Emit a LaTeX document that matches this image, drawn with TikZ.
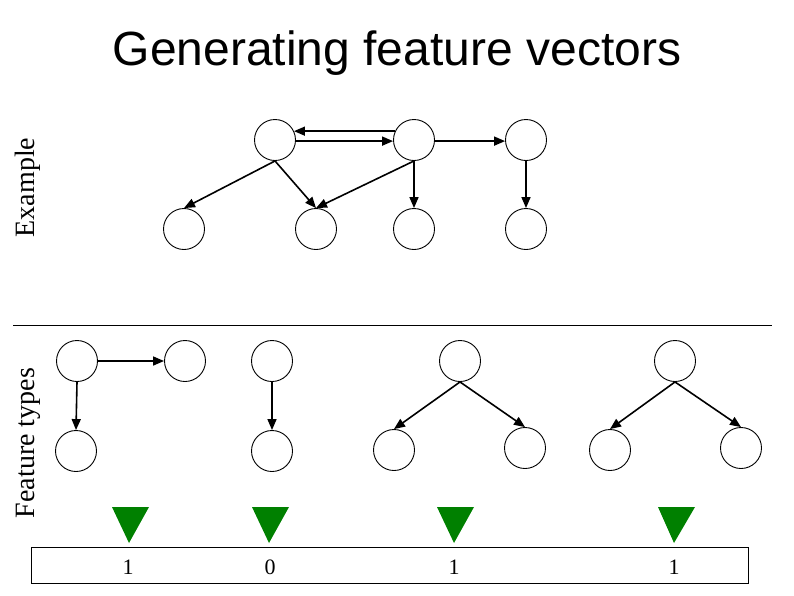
\documentclass[tikz,border=0pt]{standalone}
\usepackage{fontspec}
\setmainfont{Liberation Serif}
\newfontfamily\titlefont{Liberation Sans}
\usetikzlibrary{arrows.meta}
\definecolor{markgreen}{RGB}{0,128,0}
\tikzset{
  vtx/.style={circle, draw, line width=0.9pt, minimum size=41pt, inner sep=0pt},
  edge/.style={line width=1.6pt, -{Triangle[length=11pt,width=9pt]}},
  marker/.style={fill=markgreen},
  sidelabel/.style={rotate=90, anchor=base, font=\fontsize{28}{28}\selectfont},
  bit/.style={font=\fontsize{22}{22}\selectfont, inner sep=0pt},
}
\begin{document}
\begin{tikzpicture}[x=1pt, y=-1pt]
\useasboundingbox (0,0) rectangle (794,595);
% title
\node[anchor=base, font=\titlefont\fontsize{48}{48}\selectfont, inner sep=0pt] (title) at (397,65) {Generating feature vectors};
% side labels
\node[sidelabel] (ex) at (34,187.5) {Example};
\node[sidelabel] (ft) at (34,443) {Feature types};
% example graph
\node[vtx] (A) at (275,140) {};
\node[vtx] (B) at (414,140) {};
\node[vtx] (C) at (526,140) {};
\node[vtx] (D1) at (184,229) {};
\node[vtx] (D2) at (316,229) {};
\node[vtx] (D3) at (414,229) {};
\node[vtx] (D4) at (526,229) {};
\draw[edge] (B.155) -- (A.25);
\draw[edge] (A.-3) -- (B.183);
\draw[edge] (B.-3) -- (C.183);
\draw[edge] (A.south) -- (D1.north);
\draw[edge] (A.south) -- (D2.north);
\draw[edge] (B.south) -- (D2.north);
\draw[edge] (B.south) -- (D3.north);
\draw[edge] (C.south) -- (D4.north);
% divider
\coordinate (dl) at (13,325);
\coordinate (dr) at (772,325);
\draw[line width=0.9pt] (dl) -- (dr);
% feature types
\node[vtx] (F1a) at (77,361) {};
\node[vtx] (F1b) at (185,361) {};
\node[vtx] (F1c) at (76,451) {};
\draw[edge] (F1a.east) -- (F1b.west);
\draw[edge] (F1a.south) -- (F1c.north);
\node[vtx] (F2a) at (272,361) {};
\node[vtx] (F2b) at (272,451) {};
\draw[edge] (F2a.south) -- (F2b.north);
\node[vtx] (F3a) at (460,361) {};
\node[vtx] (F3b) at (394,450) {};
\node[vtx] (F3c) at (525,448) {};
\draw[edge] (F3a.south) -- (F3b.north);
\draw[edge] (F3a.south) -- (F3c.north);
\node[vtx] (F4a) at (675,361) {};
\node[vtx] (F4b) at (610,450) {};
\node[vtx] (F4c) at (741,448) {};
\draw[edge] (F4a.south) -- (F4b.north);
\draw[edge] (F4a.south) -- (F4c.north);
% green markers
\fill[marker] (112,507) -- (149,507) -- (129,543) -- cycle;
\fill[marker] (252,507) -- (289,507) -- (269,543) -- cycle;
\fill[marker] (437,507) -- (474,507) -- (454,543) -- cycle;
\fill[marker] (658,507) -- (695,507) -- (674,543) -- cycle;
% feature vector
\node[draw, line width=0.9pt, minimum width=717pt, minimum height=36pt, inner sep=0pt] (vec) at (389.5,565) {};
\node[bit] (b1) at (128,567) {1};
\node[bit] (b2) at (270,567) {0};
\node[bit] (b3) at (454,567) {1};
\node[bit] (b4) at (674,567) {1};
\end{tikzpicture}
\end{document}
